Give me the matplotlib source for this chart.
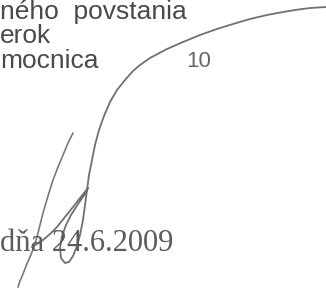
import matplotlib
matplotlib.use("Agg")
import matplotlib.pyplot as plt

# Text content
lines_sans = ["ného  povstania", "erok", "mocnica"]
page_number = "10"
date_line = "dňa 24.6.2009"

# Signature strokes (pixel coordinates)
stroke1_x = [326, 310, 295, 283, 267, 250, 233, 217, 200, 183, 167, 150, 140, 133, 125, 117, 110, 104,
             99, 95, 92, 89, 87, 85, 83, 80, 77, 73, 69, 65, 61, 60, 62, 66, 71, 78, 85, 88,
             80, 73, 65, 57, 50, 43, 37, 32]
stroke1_y = [7, 8, 10, 12, 15, 19, 24, 29, 35, 42, 49, 58, 65, 71, 80, 90, 102, 116,
             130, 145, 160, 175, 190, 205, 220, 235, 246, 256, 262, 263, 258, 248, 236, 225, 215, 204, 194, 188,
             198, 207, 217, 227, 234, 240, 244, 247]
stroke2_x = [73, 68, 63, 58, 53, 48, 43, 40, 37, 34, 30, 26, 23, 20, 18]
stroke2_y = [133, 143, 155, 167, 180, 196, 213, 225, 237, 247, 257, 266, 274, 281, 287]

W, H = 326, 289
fig = plt.figure(figsize=(W / 100, H / 100), dpi=100)
ax = fig.add_axes([0, 0, 1, 1])
ax.set_xlim(0, W)
ax.set_ylim(H, 0)
ax.axis("off")

baselines = [19, 43, 68]
for txt, yb in zip(lines_sans, baselines):
    ax.text(0, yb, txt, fontsize=19, family="Liberation Sans", color="#4a4a4a",
            va="baseline", ha="left")
ax.text(186, 67, page_number, fontsize=16, family="Liberation Sans", color="#666666",
        va="baseline", ha="left")
ax.text(0, 251, date_line, fontsize=22, family="Liberation Serif", color="#5c5c5c",
        va="baseline", ha="left")

ax.plot(stroke1_x, stroke1_y, color="#707070", lw=1.3, solid_capstyle="round", solid_joinstyle="round")
ax.plot(stroke2_x, stroke2_y, color="#7a7a7a", lw=1.2, solid_capstyle="round", solid_joinstyle="round")

fig.savefig("out.png", dpi=100, facecolor="white")
